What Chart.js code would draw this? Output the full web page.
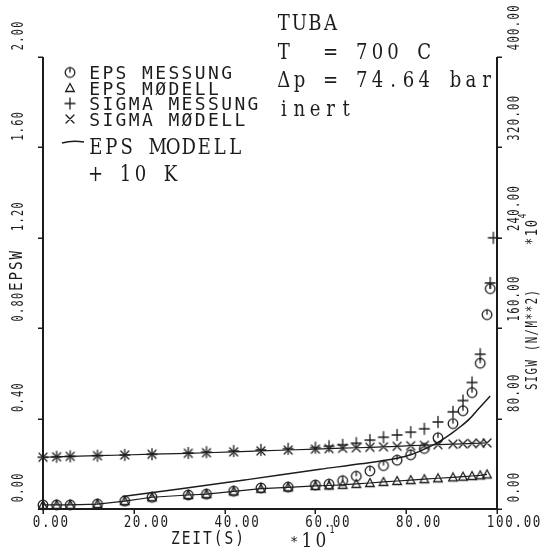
<!DOCTYPE html>
<html>
<head>
<meta charset="utf-8">
<script src="https://cdn.jsdelivr.net/npm/chart.js@4.4.1/dist/chart.umd.min.js"></script>
<style>
  html, body { margin: 0; padding: 0; background: #fff; }
  canvas { display: block; }
</style>
</head>
<body>
<canvas id="c" width="544" height="553"></canvas>
<script>
// ---- data (ZEIT in s*10^1, EPSW on the left axis, SIGW in N/m^2 *10^4 on the right axis) ----
const timeModel = [0, 3, 6, 12, 18, 24, 32, 36, 42, 48, 54, 60, 63, 66, 69, 72, 75, 78, 81, 84, 87, 90.3, 92.5, 94.5, 96.3, 97.8];
const epsModel  = [0.018, 0.018, 0.018, 0.022, 0.035, 0.052, 0.062, 0.066, 0.078, 0.09, 0.096, 0.102, 0.104, 0.107, 0.111, 0.115, 0.12, 0.124, 0.128, 0.132, 0.136, 0.14, 0.143, 0.146, 0.149, 0.153];
const sigModel  = [45.8, 46.2, 46.6, 47.2, 47.8, 48.5, 49.3, 49.8, 50.6, 51.4, 52.2, 53.0, 53.4, 53.8, 54.2, 54.6, 55.0, 55.5, 56.0, 56.4, 56.9, 57.4, 57.7, 58.0, 58.2, 58.5];

const timeEpsMess = [0, 3, 6, 12, 18, 24, 32, 36, 42, 48, 54, 60, 63, 66, 69, 72, 75, 78, 81, 84, 87, 90.3, 92.5, 94.5, 96.3, 97.8, 98.5];
const epsMess     = [0.018, 0.018, 0.018, 0.022, 0.035, 0.052, 0.062, 0.066, 0.079, 0.093, 0.097, 0.106, 0.11, 0.125, 0.145, 0.168, 0.192, 0.216, 0.24, 0.268, 0.315, 0.378, 0.435, 0.515, 0.645, 0.86, 0.975];

const timeSigMess = [0, 3, 6, 12, 18, 24, 32, 36, 42, 48, 54, 60, 63, 66, 69, 72, 75, 78, 81, 84, 87, 90.3, 92.5, 94.5, 96.3, 98.5, 99.2];
const sigMess     = [45.8, 46.2, 46.6, 47.2, 47.8, 48.5, 49.6, 50.3, 51.3, 52.3, 53.3, 54.3, 55.5, 56.8, 58.2, 61, 63.5, 65.5, 68, 71, 77, 86, 96, 112, 137, 200, 240];

const timeHot = [17.5, 30, 45, 61, 70, 78, 81, 84, 87, 90, 92, 94, 96, 98.5];
const epsHot  = [0.055, 0.088, 0.13, 0.176, 0.2, 0.225, 0.24, 0.265, 0.295, 0.335, 0.365, 0.4, 0.445, 0.5];

const xTicks   = [0, 20, 40, 60, 80, 100];
const epsTicks = [0, 0.4, 0.8, 1.2, 1.6, 2.0];
const sigTicks = [0, 80, 160, 240, 320, 400];

const legendRows = ['EPS MESSUNG', 'EPS MØDELL', 'SIGMA MESSUNG', 'SIGMA MØDELL'];
const noteLines  = ['TUBA', 'T  = 700 C', 'Δp = 74.64 bar', 'inert'];

const ink = '#1c1c1c';
const TICK = 5;

// ---- marker glyphs ----
function glyph(size, draw) {
  const c = document.createElement('canvas');
  c.width = c.height = size;
  const g = c.getContext('2d');
  g.strokeStyle = ink; g.lineWidth = 1.3; g.lineCap = 'round';
  draw(g, size / 2);
  return c;
}
const circleMark = glyph(14, (g, m) => {
  g.beginPath(); g.arc(m, m, 4.8, 0, 2 * Math.PI); g.stroke();
  g.beginPath(); g.moveTo(m, m - 4.8); g.lineTo(m, m - 0.5); g.stroke();
});
const triMark = glyph(14, (g, m) => {
  g.beginPath(); g.moveTo(m, m - 4.5); g.lineTo(m + 4.3, m + 3.5); g.lineTo(m - 4.3, m + 3.5); g.closePath(); g.stroke();
});
const plusMark = glyph(14, (g, m) => {
  g.beginPath(); g.moveTo(m - 5, m); g.lineTo(m + 5, m); g.moveTo(m, m - 5.5); g.lineTo(m, m + 5.5); g.stroke();
});
const crossMark = glyph(14, (g, m) => {
  g.beginPath(); g.moveTo(m - 4, m - 4); g.lineTo(m + 4, m + 4); g.moveTo(m + 4, m - 4); g.lineTo(m - 4, m + 4); g.stroke();
});

const pts = (xs, ys) => xs.map((t, i) => ({ x: t, y: ys[i] }));

// ---- text helpers: fixed-pitch runs, optionally stretched ----
function run(ctx, text, x0, base, pitch, family, size, sx, sy) {
  ctx.font = size + 'px ' + family;
  ctx.textAlign = 'center';
  ctx.textBaseline = 'alphabetic';
  [...text].forEach((ch, i) => {
    ctx.save();
    ctx.translate(x0 + (i + 0.5) * pitch, base);
    ctx.scale(sx, sy);
    ctx.fillText(ch, 0, 0);
    ctx.restore();
  });
}
const PLOT = '"DejaVu Sans Mono"';
function plotRun(ctx, text, x0, base, pitch, capH) {
  const size = pitch / 0.602 * 0.82;
  run(ctx, text, x0, base, pitch, PLOT, size, 1, capH / (0.729 * size));
}
// vertical text reading bottom-to-top; cx = glyph centre x, y0 = start (bottom) of the text
function plotUp(ctx, text, cx, y0, pitch, capH) {
  ctx.save();
  ctx.translate(cx + capH / 2, y0);
  ctx.rotate(-Math.PI / 2);
  plotRun(ctx, text, 0, 0, pitch, capH);
  ctx.restore();
}
const TYPE = '"DejaVu Serif"';
function typeRun(ctx, text, x0, base, pitch) {
  run(ctx, text, x0, base, pitch, TYPE, 22, 0.82, 1);
}

// axis lines and outward tick marks, placed from the chart's scales
function drawAxes(chart) {
  const { ctx } = chart;
  const { x, y, y2 } = chart.scales;
  const x0 = Math.round(x.getPixelForValue(0)), x1 = Math.round(x.getPixelForValue(100));
  const yb = Math.round(y.getPixelForValue(0)), yt = Math.round(y.getPixelForValue(2));
  const y2t = Math.round(y2.getPixelForValue(400));
  ctx.save();
  ctx.fillStyle = ink;
  ctx.fillRect(x0 - 1, yt, 2, yb - yt + 1);
  ctx.fillRect(x0 - 1, yb - 1, x1 - x0 + 2, 2);
  ctx.fillRect(x1 - 1, y2t, 2, yb - y2t + 1);
  epsTicks.forEach(v => ctx.fillRect(x0 - TICK, Math.round(y.getPixelForValue(v)) - 0.5, TICK, 1.5));
  sigTicks.forEach(v => ctx.fillRect(x1, Math.round(y2.getPixelForValue(v)) - 0.5, TICK, 1.5));
  xTicks.forEach(v => ctx.fillRect(Math.round(x.getPixelForValue(v)) - 0.5, yb, 1.5, TICK));
  ctx.restore();
}

const labels = {
  id: 'plotLabels',
  afterDraw(chart) {
    const { ctx } = chart;
    const { x, y, y2 } = chart.scales;
    drawAxes(chart);
    ctx.save();
    ctx.fillStyle = ink;
    ctx.strokeStyle = ink;

    // tick labels
    epsTicks.forEach(v => plotUp(ctx, v.toFixed(2), 17, y.getPixelForValue(v) - 6, 7.5, 11));
    sigTicks.forEach(v => plotUp(ctx, v.toFixed(2), 513, y2.getPixelForValue(v) - 6, 7.7, 11));
    xTicks.forEach(v => plotRun(ctx, v.toFixed(2), x.getPixelForValue(v) - 11, 527, 9.2, 12));

    // axis titles
    const epswLen = 4 * 10.5;
    plotUp(ctx, 'EPSW', 15, 271 + epswLen / 2, 10.5, 13);
    const sigLen = 13 * 7.8;
    plotUp(ctx, 'SIGW (N/M**2)', 531, 340 + sigLen / 2, 7.8, 12);
    plotUp(ctx, '*10', 531, 246, 9, 12);
    plotUp(ctx, '4', 522, 219, 6, 8);
    plotRun(ctx, 'ZEIT(S)', 170, 544, 10.7, 13);
    plotRun(ctx, '*', 289, 546, 10, 10);
    run(ctx, '10', 300, 547, 14, TYPE, 20, 0.85, 1);
    plotRun(ctx, '1', 329, 533, 6, 8);

    // legend
    const marks = [circleMark, triMark, plusMark, crossMark];
    legendRows.forEach((t, i) => {
      const base = 79 + i * 15.5;
      ctx.drawImage(marks[i], 70 - 7, base - 6.5 - 7);
      plotRun(ctx, t, 88, base, 13.2, 13);
    });
    ctx.lineWidth = 1.5;
    ctx.beginPath(); ctx.moveTo(62, 143); ctx.quadraticCurveTo(72, 140, 84, 142); ctx.stroke();
    typeRun(ctx, 'EPS MODELL', 88, 154, 15.5);
    typeRun(ctx, '+ 10 K', 88, 181, 15);

    // run description
    noteLines.forEach((t, i) => typeRun(ctx, t, 276, 30 + i * 28.5, 15.6));
    ctx.restore();
  }
};

const hiddenAxis = (pos, min, max) => ({
  type: 'linear', position: pos, min, max,
  ticks: { display: false },
  grid: { display: false },
  border: { display: false },
  afterFit: s => { if (pos === 'bottom') s.height = TICK; else s.width = TICK; }
});

new Chart(document.getElementById('c'), {
  type: 'scatter',
  data: {
    datasets: [
      { label: 'EPS MODELL + 10 K', data: pts(timeHot, epsHot), yAxisID: 'y', showLine: true,
        borderColor: ink, borderWidth: 1.5, pointRadius: 0, cubicInterpolationMode: 'monotone', clip: false },
      { label: 'EPS MODELL', data: pts(timeModel, epsModel), yAxisID: 'y', showLine: true,
        borderColor: ink, borderWidth: 1.2, pointStyle: triMark, clip: false },
      { label: 'SIGMA MODELL', data: pts(timeModel, sigModel), yAxisID: 'y2', showLine: true,
        borderColor: ink, borderWidth: 1.2, pointStyle: crossMark, clip: false },
      { label: 'EPS MESSUNG', data: pts(timeEpsMess, epsMess), yAxisID: 'y', showLine: false,
        pointStyle: circleMark, clip: false },
      { label: 'SIGMA MESSUNG', data: pts(timeSigMess, sigMess), yAxisID: 'y2', showLine: false,
        pointStyle: plusMark, clip: false }
    ]
  },
  options: {
    responsive: false,
    animation: false,
    devicePixelRatio: 1,
    layout: { padding: { left: 43 - TICK, right: 47 - TICK, top: 57, bottom: 44 - TICK } },
    plugins: { legend: { display: false }, tooltip: { enabled: false } },
    scales: {
      x: hiddenAxis('bottom', 0, 100),
      y: hiddenAxis('left', 0, 2),
      y2: hiddenAxis('right', 0, 400)
    }
  },
  plugins: [labels]
});
</script>
</body>
</html>
